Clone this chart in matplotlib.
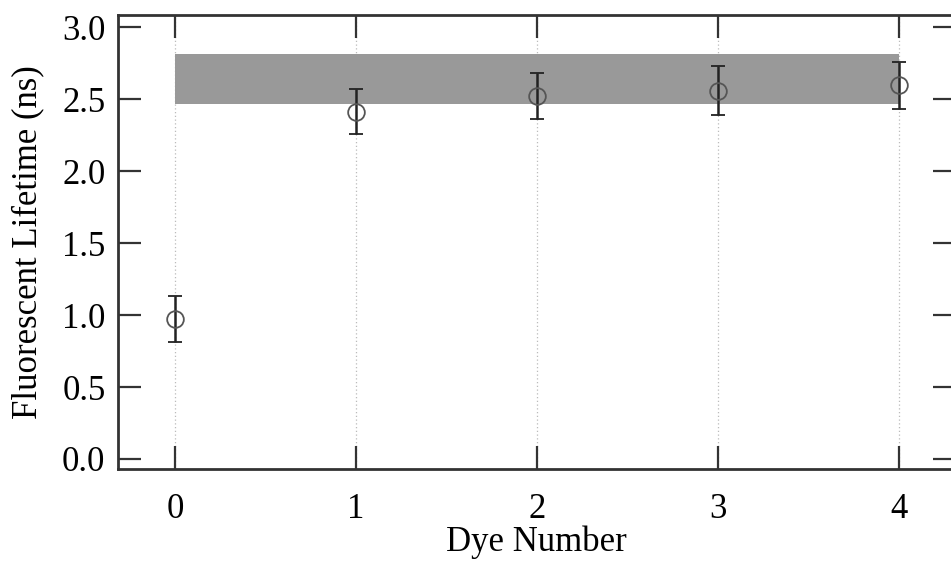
import numpy as np
import matplotlib
matplotlib.use('Agg')
import matplotlib.pyplot as plt

plt.rcParams['font.family'] = ['Liberation Serif', 'DejaVu Serif']

dye = [0, 1, 2, 3, 4]
lifetime = [0.97, 2.41, 2.52, 2.56, 2.60]
err_lo = [0.81, 2.26, 2.36, 2.39, 2.43]
err_hi = [1.13, 2.57, 2.68, 2.73, 2.76]
band_lo = 2.465
band_hi = 2.815

fig = plt.figure(figsize=(9.51, 5.62), dpi=100)
ax = fig.add_axes([0.124, 0.1655, 0.881, 0.8075])

# grey band between the first and last dye
ax.fill_between([dye[0], dye[-1]], band_lo, band_hi, color='#999999', lw=0, zorder=1)

# vertical dotted grid at each tick
ax.xaxis.grid(True, ls=(0, (1, 2)), color='#bbbbbb', lw=0.9, zorder=0)
ax.set_axisbelow(True)

yerr = [np.array(lifetime) - np.array(err_lo), np.array(err_hi) - np.array(lifetime)]
ax.errorbar(dye, lifetime, yerr=yerr, fmt='o', mfc='none', mec='#555555', ms=12,
            mew=1.3, ecolor='#222222', elinewidth=1.8, capsize=5, capthick=1.8, zorder=3)

ax.set_xlim(-0.315, 4.315)
ax.set_ylim(-0.07, 3.085)
ax.set_xticks(dye)
ax.set_yticks([0.0, 0.5, 1.0, 1.5, 2.0, 2.5, 3.0])
ax.set_yticklabels(['0.0', '0.5', '1.0', '1.5', '2.0', '2.5', '3.0'])

ax.tick_params(direction='in', length=16.5, width=1.6, color='#333333',
               labelsize=25, top=True, right=True, pad=9)
ax.tick_params(axis='x', pad=17)
for s in ax.spines.values():
    s.set_linewidth(2)
    s.set_color('#333333')

ax.set_xlabel('Dye Number', fontsize=25, labelpad=0)
ax.set_ylabel('Fluorescent Lifetime (ns)', fontsize=25, labelpad=13)

fig.savefig('out.png', dpi=100)
